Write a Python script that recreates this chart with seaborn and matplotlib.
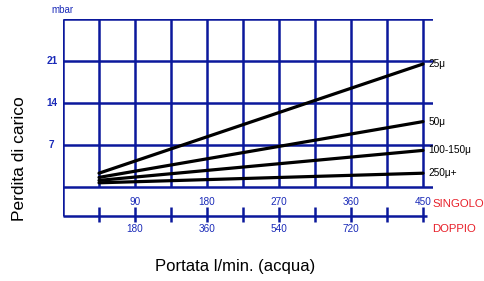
import numpy as np
import pandas as pd
import matplotlib
matplotlib.use("Agg")
import matplotlib.pyplot as plt
import seaborn as sns

# ---- data ----
flow_singolo = [45, 450]                 # l/min (SINGOLO)
loss_25 = [2.3, 20.5]                    # mbar
loss_50 = [1.6, 10.9]
loss_100_150 = [1.1, 6.1]
loss_250 = [0.7, 2.3]
filters = ["25μ", "50μ", "100-150μ", "250μ+"]
y_ticks = [7, 14, 21]
x_ticks_singolo = [90, 180, 270, 360, 450]
x_ticks_doppio = [180, 360, 540, 720]

sns.set_style("white")
plt.rcParams["font.family"] = ["Liberation Sans", "DejaVu Sans"]

rows = []
for name, vals in zip(filters, [loss_25, loss_50, loss_100_150, loss_250]):
    for f, v in zip(flow_singolo, vals):
        rows.append({"flow": f, "loss": v, "filter": name})
df = pd.DataFrame(rows)

W, H = 484, 281
fig = plt.figure(figsize=(W / 100, H / 100), dpi=100)
fig.patch.set_facecolor("white")
ax = fig.add_axes([63 / W, 1 - 229 / H, 370 / W, (229 - 19) / H])
ax.set_xlim(0, 462.5)
ax.set_ylim(-7, 28)
ax.set_axis_off()

grid_c = "#0b189c"
lab_c = "#1a2ab8"
red_c = "#e8202a"
gw = 1.8
axis_y = -4.83

# grid
ax.hlines([0, 7, 14, 21, 28], 0, 462.5, color=grid_c, lw=gw, zorder=1)
ax.vlines(np.arange(45, 451, 45), 0, 28, color=grid_c, lw=gw, zorder=1)
ax.vlines(0, axis_y, 28, color=grid_c, lw=gw, zorder=1)
# bottom axis with ticks
ax.hlines(axis_y, 0, 455, color=grid_c, lw=gw, zorder=1)
ax.vlines(np.arange(45, 451, 45), -3.4, -5.8, color=grid_c, lw=gw, zorder=1)

sns.lineplot(data=df, x="flow", y="loss", hue="filter",
             palette=["black"] * len(filters), legend=False,
             linewidth=2.3, ax=ax, zorder=3)

# line labels
for name, vals in zip(filters, [loss_25, loss_50, loss_100_150, loss_250]):
    ax.text(457, vals[-1], name, ha="left", va="center", fontsize=7.3,
            color="black")

# tick labels
for v in y_ticks:
    ax.text(-14, v, str(v), ha="center", va="center", fontsize=7.2,
            color=lab_c, fontweight="bold")
ax.text(-0.6, 29.5, "mbar", ha="center", va="center", fontsize=7,
        color=lab_c)
for v in x_ticks_singolo:
    ax.text(v, -2.5, str(v), ha="center", va="center", fontsize=7.2,
            color=lab_c)
for v in x_ticks_doppio:
    ax.text(v / 2, -7.0, str(v), ha="center", va="center", fontsize=7.2,
            color=lab_c)
ax.text(462, -2.8, "SINGOLO", ha="left", va="center", fontsize=8.2,
        color=red_c)
ax.text(462, -7.0, "DOPPIO", ha="left", va="center", fontsize=8.2,
        color=red_c)

fig.text(20 / W, 1 - 159 / H, "Perdita di carico", rotation=90,
         ha="center", va="center", fontsize=12.5, color="black")
fig.text(235 / W, 1 - 267 / H, "Portata l/min. (acqua)",
         ha="center", va="center", fontsize=12, color="black")

fig.savefig("out.png", dpi=100, facecolor="white")
